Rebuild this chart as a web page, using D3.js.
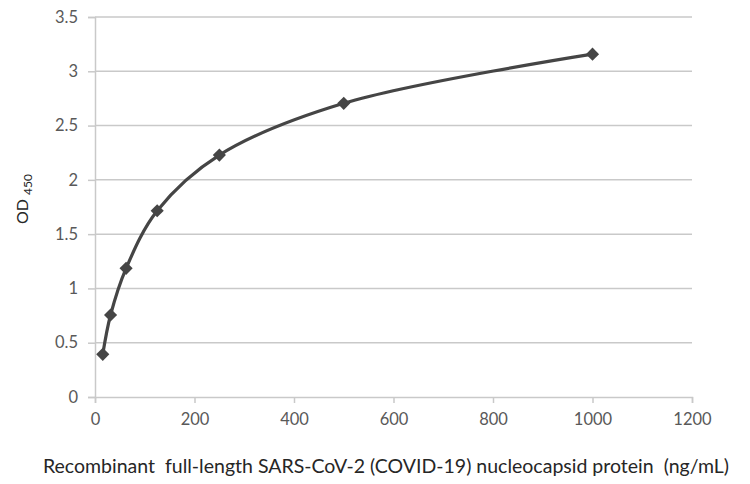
<!DOCTYPE html>
<html><head><meta charset="utf-8">
<script src="https://cdn.jsdelivr.net/npm/d3@7"></script>
<style>body{margin:0;background:#fff}</style>
</head><body><svg id="c" width="750" height="484"></svg>
<script>
const concentrations = [15.625, 31.25, 62.5, 125, 250, 500, 1000];
const odValues = [0.393, 0.755, 1.185, 1.715, 2.228, 2.705, 3.158];
const xTicks = [0, 200, 400, 600, 800, 1000, 1200];
const yTicks = [0, 0.5, 1, 1.5, 2, 2.5, 3, 3.5];
const xTitle = "Recombinant  full-length SARS-CoV-2 (COVID-19) nucleocapsid protein  (ng/mL)";

const svg = d3.select("#c");
const m = {l: 95, r: 692, t: 17, b: 397};
const x = d3.scaleLinear().domain([0, 1200]).range([m.l, m.r]);
const y = d3.scaleLinear().domain([0, 3.5]).range([m.b, m.t]);
const font = "Lato, 'Open Sans', sans-serif";
const grid = "#c9c9c9";

const yAx = svg.append("g").attr("transform", `translate(${m.l},0)`)
  .call(d3.axisLeft(y).tickValues(yTicks).tickFormat(d => d).tickSize(7).tickPadding(10));
yAx.select(".domain").attr("stroke", grid).attr("stroke-width", 1.5);
yAx.selectAll(".tick line").attr("stroke", grid).attr("stroke-width", 1.5);
yAx.selectAll(".tick text").attr("fill", "#595959").style("font-family", font).style("font-size", "16.5px");

svg.append("g").selectAll("line").data(yTicks.filter(d => d > 0)).join("line")
  .attr("x1", m.l).attr("x2", m.r).attr("y1", d => y(d)).attr("y2", d => y(d))
  .attr("stroke", grid).attr("stroke-width", 1.5);

const xAx = svg.append("g").attr("transform", `translate(0,${m.b})`)
  .call(d3.axisBottom(x).tickValues(xTicks).tickFormat(d => d).tickSize(6).tickPadding(10));
xAx.select(".domain").attr("stroke", grid).attr("stroke-width", 1.5);
xAx.selectAll(".tick line").attr("stroke", grid).attr("stroke-width", 1.5);
xAx.selectAll(".tick text").attr("fill", "#595959").style("font-family", font).style("font-size", "16.5px");

const pts = concentrations.map((c, i) => [c, odValues[i]]);
svg.append("path").datum(pts)
  .attr("d", d3.line().x(d => x(d[0])).y(d => y(d[1])).curve(d3.curveCatmullRom.alpha(0.5)))
  .attr("fill", "none").attr("stroke", "#454545").attr("stroke-width", 3.2);

svg.append("g").selectAll("path").data(pts).join("path")
  .attr("transform", d => `translate(${x(d[0])},${y(d[1])})`)
  .attr("d", d3.symbol(d3.symbolDiamond2, 110))
  .attr("fill", "#454545");

svg.append("text").attr("x", 386).attr("y", 473).attr("text-anchor", "middle")
  .attr("fill", "#262626").style("font-family", font).style("font-size", "19.5px")
  .style("white-space", "pre").text(xTitle);

const yt = svg.append("text").attr("transform", "translate(28,199) rotate(-90)")
  .attr("text-anchor", "middle").attr("fill", "#262626")
  .style("font-family", font).style("font-size", "16px");
yt.append("tspan").text("OD ");
yt.append("tspan").attr("dy", 4).style("font-size", "12px").text("450");
</script></body></html>
